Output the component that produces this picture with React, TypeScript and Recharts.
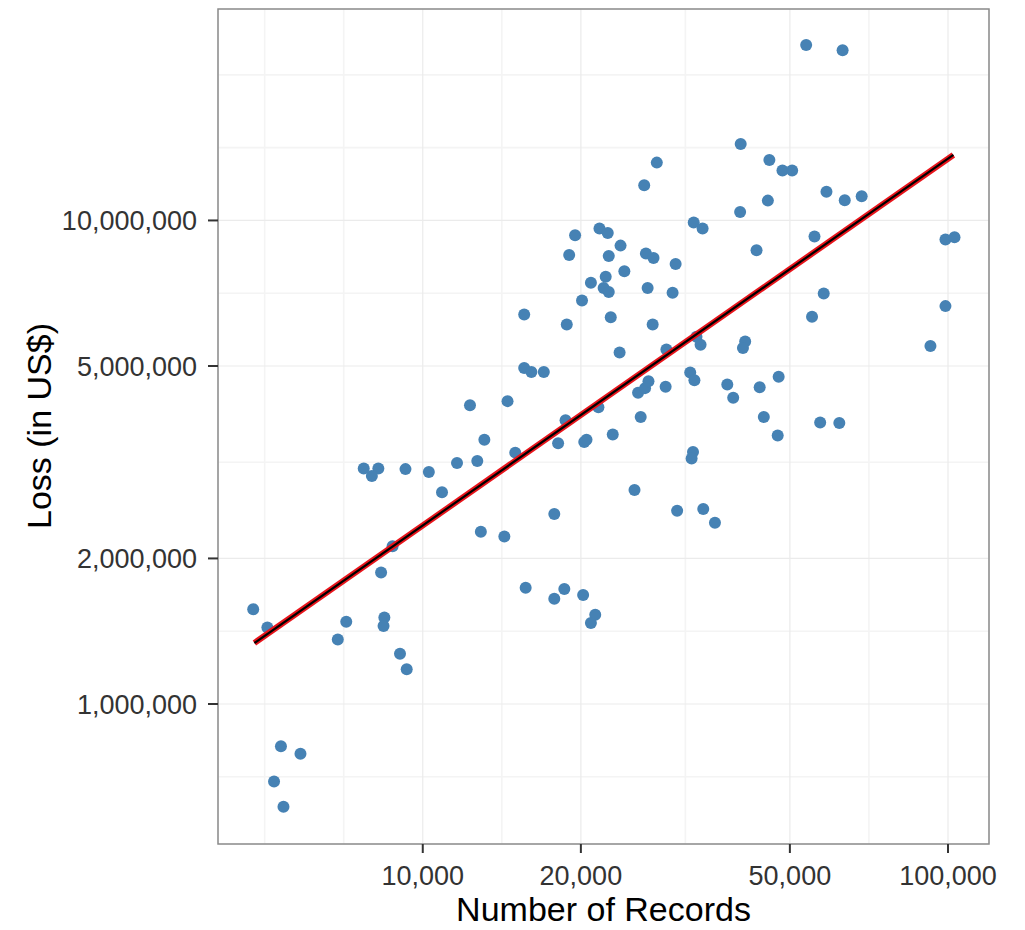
import { CartesianGrid, ReferenceArea, Scatter, ScatterChart, XAxis, YAxis } from 'recharts';

// number of records exposed vs. loss in US$, one entry per breach
const RECORDS = [
  53700, 63000, 40300, 27900, 26400, 40200, 19500, 21700, 22500, 32800,
  34100, 19000, 23800, 22600, 26600, 27500, 30300, 24200, 22300, 22100,
  22600, 20900, 26800, 29900, 45700, 48400, 50500, 58700, 63600, 68500,
  45400, 43200, 55700, 98900, 102900, 58000, 55100, 98900, 92600, 41100,
  40700, 47600, 43800, 39000, 44600, 47400, 57100, 62100, 20100, 15600,
  18800, 22800, 27400, 23700, 29100, 33200, 33800, 15600, 16100, 17000,
  14500, 13100, 12700, 15000, 18100, 18700, 20300, 20500, 21600, 23000,
  26000, 25700, 26500, 26900, 29000, 32300, 32900, 38000, 32700, 32500,
  25300, 30500, 34200, 36000, 17800, 12900, 14300, 12300, 7720, 8230,
  8000, 9270, 10270, 11620, 10880, 8760, 8330, 4755, 5060, 7150,
  6890, 8450, 8420, 9050, 9320, 5370, 5850, 5210, 5430, 15700,
  17800, 18600, 20200, 21300, 20900,
];
const LOSSES = [
  23070000, 22490000, 14390000, 13170000, 11830000, 10410000, 9320000, 9620000, 9420000, 9900000,
  9620000, 8480000, 8870000, 8440000, 8540000, 8360000, 8130000, 7850000, 7650000, 7250000,
  7110000, 7430000, 7250000, 7090000, 13340000, 12680000, 12680000, 11470000, 11010000, 11220000,
  10990000, 8680000, 9260000, 9130000, 9230000, 7060000, 6320000, 6650000, 5500000, 5620000,
  5450000, 4750000, 4520000, 4300000, 3920000, 3590000, 3820000, 3810000, 6830000, 6390000,
  6090000, 6310000, 6090000, 5330000, 5410000, 5750000, 5530000, 4950000, 4860000, 4860000,
  4230000, 3520000, 3180000, 3310000, 3460000, 3860000, 3480000, 3520000, 4110000, 3610000,
  3920000, 4400000, 4500000, 4650000, 4530000, 4850000, 4670000, 4580000, 3320000, 3220000,
  2770000, 2510000, 2530000, 2370000, 2470000, 2270000, 2220000, 4150000, 3070000, 3070000,
  2960000, 3060000, 3020000, 3150000, 2740000, 2120000, 1870000, 1570000, 1440000, 1480000,
  1360000, 1510000, 1450000, 1270000, 1180000, 818000, 789000, 691000, 613000, 1740000,
  1650000, 1730000, 1680000, 1530000, 1470000,
];

// fitted log-log trend, end points
const TREND_RECORDS = [4780, 102400];
const TREND_LOSSES = [1337000, 13660000];

const X_TICKS = [10000, 20000, 50000, 100000];
const Y_TICKS = [1000000, 2000000, 5000000, 10000000];
const X_MINOR = [5000, 7071, 14142, 31623, 70711];
const Y_MINOR = [707107, 1414214, 3162278, 7071068, 14142136, 20000000];
const X_DOMAIN = [4075, 119700];
const Y_DOMAIN = [513400, 27370000];

const points = RECORDS.map((records, i) => ({ records, loss: LOSSES[i] }));
const trend = TREND_RECORDS.map((records, i) => ({ records, loss: TREND_LOSSES[i] }));

const FONT = '"Liberation Sans", Arial, Helvetica, sans-serif';
const TICK_COLOR = '#333333';
const fmt = (v: number) => v.toLocaleString('en-US');

// tick mark + label drawn together so the little dash always shows
function XTick({ x, y, payload }: any) {
  return (
    <g>
      <line x1={x} x2={x} y1={y - 22} y2={y - 13} stroke={TICK_COLOR} strokeWidth={2} />
      <text x={x} y={y} dy="0.71em" textAnchor="middle" fontSize={27} fontFamily={FONT} fill={TICK_COLOR}>
        {fmt(payload.value)}
      </text>
    </g>
  );
}

function YTick({ x, y, payload }: any) {
  return (
    <g>
      <line x1={x + 11} x2={x + 21} y1={y} y2={y} stroke={TICK_COLOR} strokeWidth={2} />
      <text x={x} y={y} dy="0.355em" textAnchor="end" fontSize={27} fontFamily={FONT} fill={TICK_COLOR}>
        {fmt(payload.value)}
      </text>
    </g>
  );
}

function Dot({ cx, cy }: any) {
  return <circle cx={cx} cy={cy} r={6} fill="#4682B4" />;
}

export default function App() {
  return (
    <div style={{ position: 'absolute', left: 0, top: 0, width: 1025, height: 930, background: '#fff' }}>
      <ScatterChart width={1025} height={930} margin={{ top: 9, right: 36, bottom: 0, left: 0 }}>
        <CartesianGrid verticalValues={X_MINOR} horizontalValues={Y_MINOR} stroke="#F4F4F4" strokeWidth={1.6} />
        <CartesianGrid stroke="#EBEBEB" strokeWidth={1.2} />
        <XAxis
          type="number"
          dataKey="records"
          scale="log"
          domain={X_DOMAIN}
          allowDataOverflow
          ticks={X_TICKS}
          interval={0}
          axisLine={false}
          tickLine={false}
          tickSize={9}
          tickMargin={13}
          height={86}
          tick={<XTick />}
          label={{
            content: () => (
              <text x={603.5} y={921} textAnchor="middle" fontSize={34} fontFamily={FONT} fill="#000">
                Number of Records
              </text>
            ),
          }}
        />
        <YAxis
          type="number"
          dataKey="loss"
          scale="log"
          domain={Y_DOMAIN}
          allowDataOverflow
          ticks={Y_TICKS}
          interval={0}
          axisLine={false}
          tickLine={false}
          tickSize={10}
          tickMargin={11}
          width={218}
          tick={<YTick />}
          label={{
            content: () => (
              <text
                x={39}
                y={426}
                transform="rotate(-90 39 426)"
                textAnchor="middle"
                dominantBaseline="central"
                fontSize={34}
                fontFamily={FONT}
                fill="#000"
              >
                Loss (in US$)
              </text>
            ),
          }}
        />
        <ReferenceArea
          x1={X_DOMAIN[0]}
          x2={X_DOMAIN[1]}
          y1={Y_DOMAIN[0]}
          y2={Y_DOMAIN[1]}
          fill="none"
          stroke="#8C8C8C"
          strokeWidth={1.5}
          ifOverflow="visible"
        />
        <Scatter data={points} shape={<Dot />} isAnimationActive={false} />
        <Scatter
          data={trend}
          line={{ stroke: '#E8141B', strokeWidth: 6 }}
          shape={() => <g />}
          isAnimationActive={false}
        />
        <Scatter
          data={trend}
          line={{ stroke: '#000000', strokeWidth: 2.2 }}
          shape={() => <g />}
          isAnimationActive={false}
        />
      </ScatterChart>
    </div>
  );
}
